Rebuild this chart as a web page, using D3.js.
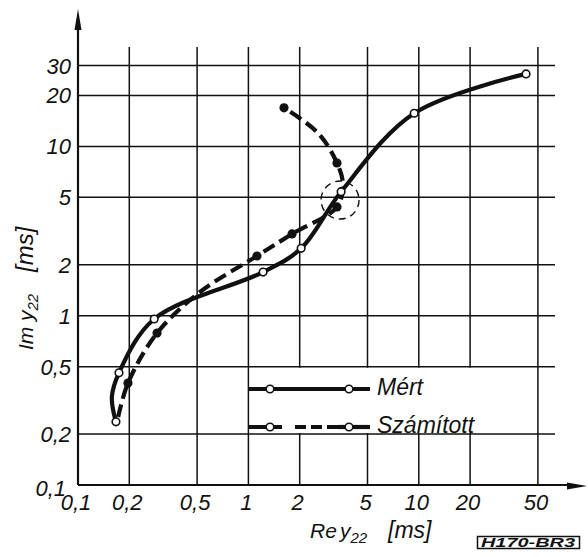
<!DOCTYPE html>
<html>
<head>
<meta charset="utf-8">
<script src="https://cdn.jsdelivr.net/npm/d3@7"></script>
<style>
  body { margin: 0; background: #fff; }
  svg { display: block; }
  text { font-family: "Liberation Sans", Arial, sans-serif; font-style: italic; fill: #111; }
</style>
</head>
<body>
<svg id="chart" width="588" height="557"></svg>
<script>
// Grid values on both log axes
X_TICKS = [0.1, 0.2, 0.5, 1, 2, 5, 10, 20, 50]
X_TICK_LABELS = ["0,1", "0,2", "0,5", "1", "2", "5", "10", "20", "50"]
Y_TICKS = [0.1, 0.2, 0.5, 1, 2, 5, 10, 20, 30]
Y_TICK_LABELS = ["0,1", "0,2", "0,5", "1", "2", "5", "10", "20", "30"]

// Mért (measured) points, open circles
MERT_RE = [0.167, 0.174, 0.28, 1.22, 2.04, 3.5, 9.4, 42.6]
MERT_IM = [0.236, 0.46, 0.956, 1.81, 2.5, 5.4, 15.7, 26.8]
// Smooth curve through the measured points
MERT_CURVE_RE = [0.167, 0.158, 0.174, 0.28, 1.22, 2.04, 3.5, 9.4, 42.6]
MERT_CURVE_IM = [0.236, 0.331, 0.46, 0.956, 1.81, 2.5, 5.4, 15.7, 26.8]

// Számított (calculated) points, filled dots
SZAM_RE = [0.1965, 0.291, 1.123, 1.803, 3.31, 3.31, 1.618]
SZAM_IM = [0.400, 0.790, 2.253, 3.04, 4.39, 7.98, 16.9]
SZAM_CURVE_RE = [0.172, 0.1965, 0.291, 0.52, 1.123, 1.803, 3.31, 3.59, 3.31, 2.56, 1.618]
SZAM_CURVE_IM = [0.252, 0.400, 0.790, 1.38, 2.253, 3.04, 4.39, 5.92, 7.98, 12.0, 16.9]

// Dashed ring round the point where the curves meet
RING_RE = 3.45
RING_IM = 4.82

LEGEND_NAMES = ["Mért", "Számított"]

// Layout (pixels)
X0 = 78
Y0 = 485
DECADE_X = 170.4
DECADE_Y = 169.3
GRID_TOP = 47
GRID_RIGHT = 555
CURVE_WIDTH = 4.2
INK = "#111"

const svg = d3.select("#chart");

const x = d3.scaleLog().domain([0.1, 100]).range([X0, X0 + 3 * DECADE_X]);
const y = d3.scaleLog().domain([0.1, 100]).range([Y0, Y0 - 3 * DECADE_Y]);

// Vertical grid lines
svg.append("g")
    .selectAll("line")
    .data(X_TICKS.slice(1))
    .enter()
    .append("line")
    .attr("x1", (d) => x(d))
    .attr("x2", (d) => x(d))
    .attr("y1", GRID_TOP)
    .attr("y2", Y0)
    .attr("stroke", INK)
    .attr("stroke-width", 1.5);

// Legend box hides the vertical grid between the 0,5 and 0,2 lines
svg.append("rect")
    .attr("x", x(1) + 1.5)
    .attr("y", y(0.5) + 1)
    .attr("width", 255)
    .attr("height", y(0.2) - y(0.5) - 2)
    .attr("fill", "#fff");

// Horizontal grid lines
svg.append("g")
    .selectAll("line")
    .data(Y_TICKS.slice(1))
    .enter()
    .append("line")
    .attr("x1", X0)
    .attr("x2", GRID_RIGHT)
    .attr("y1", (d) => y(d))
    .attr("y2", (d) => y(d))
    .attr("stroke", INK)
    .attr("stroke-width", 1.5);

// Axes with arrow heads
svg.append("line")
    .attr("x1", X0).attr("x2", X0)
    .attr("y1", Y0).attr("y2", 20)
    .attr("stroke", INK).attr("stroke-width", 2.2);
svg.append("path")
    .attr("d", `M${X0},9 L${X0 - 3.5},30 L${X0 + 3.5},30 Z`)
    .attr("fill", INK);
svg.append("line")
    .attr("x1", X0).attr("x2", 575)
    .attr("y1", Y0).attr("y2", Y0)
    .attr("stroke", INK).attr("stroke-width", 2.2);
svg.append("path")
    .attr("d", `M587,${Y0 + 1} L567,${Y0 - 2.5} L567,${Y0 + 4.5} Z`)
    .attr("fill", INK);

// Tick labels
svg.append("g")
    .selectAll("text")
    .data(X_TICKS)
    .enter()
    .append("text")
    .attr("x", (d) => x(d) - 2)
    .attr("y", 510)
    .attr("text-anchor", "middle")
    .attr("font-size", 22)
    .text((d, i) => X_TICK_LABELS[i]);

svg.append("g")
    .selectAll("text")
    .data(Y_TICKS)
    .enter()
    .append("text")
    .attr("x", (d) => d === 0.1 ? 66 : 71)
    .attr("y", (d) => y(d) + (d === 0.1 ? 3 : 0))
    .attr("dy", "0.36em")
    .attr("text-anchor", "end")
    .attr("font-size", 22)
    .text((d, i) => Y_TICK_LABELS[i]);

// Axis titles
const xTitle = svg.append("text")
    .attr("x", 310)
    .attr("y", 538)
    .attr("font-size", 21);
xTitle.append("tspan").text("Re");
xTitle.append("tspan").attr("x", 340).text("y");
xTitle.append("tspan").attr("dy", 5).attr("font-size", 15).text("22");
xTitle.append("tspan").attr("x", 388).attr("dy", -5).attr("font-size", 23).text("[ms]");

const yTitle = svg.append("text")
    .attr("transform", "translate(33,350) rotate(-90)")
    .attr("font-size", 21);
yTitle.append("tspan").attr("x", 0).text("Im");
yTitle.append("tspan").attr("x", 29).text("y");
yTitle.append("tspan").attr("dy", 5).attr("font-size", 15).text("22");
yTitle.append("tspan").attr("x", 78).attr("dy", -5).attr("font-size", 24).text("[ms]");

// Curves
const line = d3.line()
    .curve(d3.curveCatmullRom.alpha(0.5))
    .x((d) => x(d[0]))
    .y((d) => y(d[1]));

const mertCurve = MERT_CURVE_RE.map((re, i) => [re, MERT_CURVE_IM[i]]);
const szamCurve = SZAM_CURVE_RE.map((re, i) => [re, SZAM_CURVE_IM[i]]);

svg.append("path")
    .attr("d", line(szamCurve))
    .attr("fill", "none")
    .attr("stroke", INK)
    .attr("stroke-width", CURVE_WIDTH)
    .attr("stroke-dasharray", "13,6");

svg.append("path")
    .attr("d", line(mertCurve))
    .attr("fill", "none")
    .attr("stroke", INK)
    .attr("stroke-width", CURVE_WIDTH);

// Dashed ring
svg.append("circle")
    .attr("cx", x(RING_RE))
    .attr("cy", y(RING_IM))
    .attr("r", 19)
    .attr("fill", "none")
    .attr("stroke", INK)
    .attr("stroke-width", 1.4)
    .attr("stroke-dasharray", "7,5");

// Markers
svg.append("g")
    .selectAll("circle")
    .data(SZAM_RE.map((re, i) => [re, SZAM_IM[i]]))
    .enter()
    .append("circle")
    .attr("cx", (d) => x(d[0]))
    .attr("cy", (d) => y(d[1]))
    .attr("r", 4.6)
    .attr("fill", INK);

svg.append("g")
    .selectAll("circle")
    .data(MERT_RE.map((re, i) => [re, MERT_IM[i]]))
    .enter()
    .append("circle")
    .attr("cx", (d) => x(d[0]))
    .attr("cy", (d) => y(d[1]))
    .attr("r", 3.8)
    .attr("fill", "#fff")
    .attr("stroke", INK)
    .attr("stroke-width", 1.6);

// Legend
const legendRows = [389, 427];
const legendX1 = x(1);
const legendX2 = 370;
LEGEND_NAMES.forEach((name, i) => {
    const ly = legendRows[i];
    const g = svg.append("g");
    if (i === 0) {
        g.append("line")
            .attr("x1", legendX1).attr("x2", legendX2)
            .attr("y1", ly).attr("y2", ly)
            .attr("stroke", INK).attr("stroke-width", CURVE_WIDTH);
    } else {
        g.append("line")
            .attr("x1", legendX1).attr("x2", 282)
            .attr("y1", ly).attr("y2", ly)
            .attr("stroke", INK).attr("stroke-width", CURVE_WIDTH);
        g.append("line")
            .attr("x1", 295).attr("x2", 338)
            .attr("y1", ly).attr("y2", ly)
            .attr("stroke", INK).attr("stroke-width", CURVE_WIDTH)
            .attr("stroke-dasharray", "11,5");
        g.append("line")
            .attr("x1", 338).attr("x2", legendX2)
            .attr("y1", ly).attr("y2", ly)
            .attr("stroke", INK).attr("stroke-width", CURVE_WIDTH);
    }
    [270, 349].forEach((cx) => {
        g.append("circle")
            .attr("cx", cx).attr("cy", ly)
            .attr("r", 3.8)
            .attr("fill", "#fff")
            .attr("stroke", INK)
            .attr("stroke-width", 1.6);
    });
    g.append("text")
        .attr("x", 377)
        .attr("y", ly + 6)
        .attr("font-size", 23)
        .text(name);
});

// Figure code
svg.append("rect")
    .attr("x", 477.5).attr("y", 536.5)
    .attr("width", 102).attr("height", 12)
    .attr("fill", "none")
    .attr("stroke", INK)
    .attr("stroke-width", 1.5);
svg.append("text")
    .attr("x", 528)
    .attr("y", 547)
    .attr("text-anchor", "middle")
    .attr("font-size", 13)
    .attr("font-weight", "bold")
    .attr("textLength", 94)
    .attr("lengthAdjust", "spacingAndGlyphs")
    .text("H170-BR3");
</script>
</body>
</html>
